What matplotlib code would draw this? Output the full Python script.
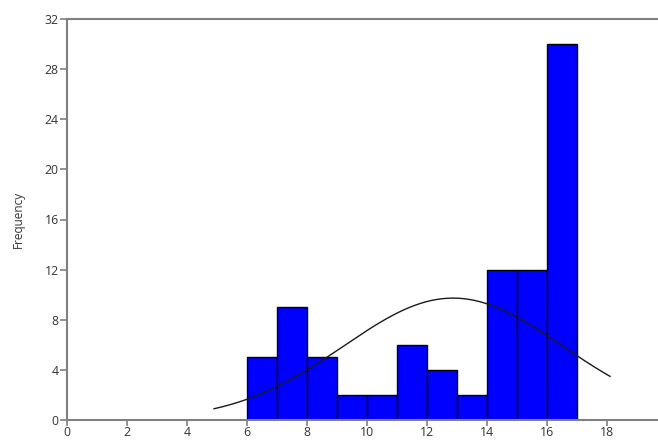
import numpy as np
import matplotlib
matplotlib.use('Agg')
import matplotlib.pyplot as plt

# histogram data
bin_edges = [6, 7, 8, 9, 10, 11, 12, 13, 14, 15, 16, 17]
counts = [5, 9, 5, 2, 2, 6, 4, 2, 12, 12, 30]

# fitted normal curve parameters
curve_mean = 12.87
curve_sd = 3.65
curve_start, curve_end = 4.9, 18.1

x_ticks = [0, 2, 4, 6, 8, 10, 12, 14, 16, 18]
y_ticks = [0, 4, 8, 12, 16, 20, 24, 28, 32]

plt.rcParams['font.family'] = ['Open Sans', 'DejaVu Sans']

fig = plt.figure(figsize=(6.58, 4.42), dpi=100)
ax = fig.add_axes([67 / 658, 22 / 442, 1 - 67 / 658, 401 / 442])

left = np.array(bin_edges[:-1])
widths = np.diff(bin_edges)
ax.bar(left, counts, width=widths, align='edge', color='#0000ff',
       edgecolor='black', linewidth=1.0, zorder=2)

n = sum(counts)
xs = np.linspace(curve_start, curve_end, 300)
ys = n * 1.0 / (curve_sd * np.sqrt(2 * np.pi)) * np.exp(-(xs - curve_mean) ** 2 / (2 * curve_sd ** 2))
ax.plot(xs, ys, color='#1a1a1a', linewidth=1.0, zorder=3)

ax.set_xlim(0, (658 - 67) / 30)
ax.set_ylim(0, 32)
ax.set_xticks(x_ticks)
ax.set_yticks(y_ticks)

spine_color = '#808080'
for side in ['left', 'bottom', 'top']:
    ax.spines[side].set_color(spine_color)
    ax.spines[side].set_linewidth(1.5)
ax.spines['right'].set_visible(False)
ax.tick_params(axis='both', colors=spine_color, labelcolor='#333333',
               length=5, width=1.2, labelsize=8.8, pad=1)
ax.tick_params(axis='x', length=4, pad=0)

ax.set_ylabel('Frequency', fontsize=8.5, color='#333333', labelpad=14)

fig.savefig('out.png', dpi=100)
